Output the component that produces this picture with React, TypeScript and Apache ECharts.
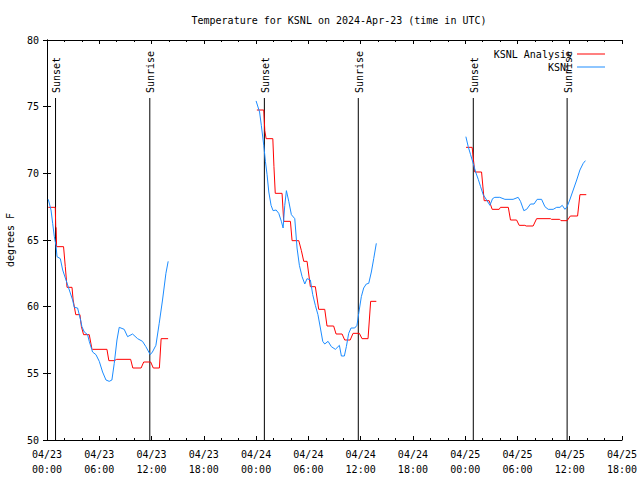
import React, { useEffect, useRef } from "react";
import * as echarts from "echarts";

// hours since 2024-04-23 00:00 UTC
const analysisSeg1: [number, number][] = [
  [0.15, 67.45], [0.95, 67.45], [1.0, 66.0], [1.05, 65.9], [1.1, 64.5], [1.9, 64.5], [2.1, 63.0], [2.3, 61.45],
  [2.87, 61.45], [3.0, 60.5], [3.3, 59.4], [3.78, 59.4], [3.95, 58.5], [4.2, 57.9], [4.85, 57.9], [5.15, 56.85],
  [5.23, 56.8], [6.88, 56.8], [7.1, 55.95], [7.72, 55.95], [8.0, 56.05], [9.6, 56.05], [9.85, 55.4], [10.8, 55.4],
  [11.1, 55.85], [11.9, 55.85], [12.2, 55.4], [12.9, 55.4], [13.1, 57.6], [13.9, 57.6],
];
const analysisSeg2: [number, number][] = [
  [24.09, 74.75], [24.88, 74.75], [25.0, 73.2], [25.15, 72.6], [25.92, 72.6], [26.05, 70.5], [26.2, 68.5],
  [26.98, 68.5], [27.17, 66.4], [27.94, 66.4], [28.13, 64.95], [28.9, 64.95], [29.2, 64.2], [29.47, 63.4],
  [29.85, 63.4], [30.23, 61.5], [30.8, 61.5], [31.19, 59.8], [31.88, 59.8], [32.14, 58.55], [32.9, 58.55],
  [33.18, 57.95], [33.87, 57.95], [34.17, 57.5], [34.8, 57.5], [35.13, 58.0], [35.85, 58.0], [36.16, 57.6],
  [36.85, 57.6], [37.15, 60.4], [37.8, 60.4],
];
const analysisSeg3: [number, number][] = [
  [48.1, 71.95], [48.8, 71.95], [49.1, 70.1], [49.88, 70.1], [50.18, 67.95], [50.75, 67.95], [51.1, 67.3],
  [51.9, 67.3], [52.05, 67.45], [52.95, 67.45], [53.2, 66.5], [53.9, 66.5], [54.2, 66.1], [54.85, 66.1],
  [55.0, 66.05], [55.8, 66.05], [56.2, 66.6], [57.8, 66.6], [57.9, 66.55], [58.85, 66.55], [59.0, 66.45],
  [59.7, 66.45], [60.07, 66.8], [60.9, 66.8], [61.17, 68.4], [61.9, 68.4],
];

const obsSeg1: [number, number][] = [
  [0.15, 68.05], [0.46, 67.25], [0.65, 66.25], [0.84, 65.25], [1.03, 64.6], [1.15, 63.75], [1.53, 63.6],
  [1.8, 62.75], [2.18, 62.0], [2.56, 61.25], [2.94, 60.5], [3.13, 59.95], [3.51, 59.9], [3.82, 59.1],
  [4.01, 58.5], [4.28, 58.1], [4.66, 57.9], [4.85, 57.4], [5.23, 56.6], [5.62, 56.4], [6.0, 55.9],
  [6.38, 55.1], [6.77, 54.5], [7.14, 54.4], [7.45, 54.5], [7.72, 55.75], [8.03, 57.5], [8.29, 58.45],
  [8.86, 58.3], [9.25, 57.75], [9.82, 57.95], [10.4, 57.6], [10.96, 57.4], [11.35, 57.0], [11.85, 56.4],
  [12.1, 56.6], [12.5, 57.1], [12.88, 58.75], [13.26, 60.5], [13.65, 62.5], [13.91, 63.4],
];
const obsSeg2: [number, number][] = [
  [24.0, 75.43], [24.4, 74.6], [24.6, 73.6], [24.88, 72.1], [25.07, 70.9], [25.26, 69.9], [25.46, 68.6],
  [25.72, 67.6], [25.95, 67.2], [26.3, 67.25], [26.6, 67.0], [26.9, 66.4], [27.1, 65.9], [27.29, 67.6],
  [27.48, 68.7], [27.75, 67.9], [28.05, 66.9], [28.44, 66.6], [28.7, 64.4], [28.97, 63.1], [29.28, 62.25],
  [29.59, 61.7], [29.85, 62.1], [30.23, 62.0], [30.5, 60.9], [30.8, 60.1], [31.1, 59.4], [31.38, 58.4],
  [31.65, 57.4], [31.88, 57.2], [32.26, 57.4], [32.64, 57.0], [33.1, 56.8], [33.56, 57.1], [33.79, 56.3],
  [34.13, 56.3], [34.36, 57.0], [34.63, 58.0], [34.9, 58.4], [35.32, 58.4], [35.58, 58.6], [35.78, 59.5],
  [36.08, 60.75], [36.35, 61.4], [36.65, 61.7], [36.93, 61.75], [37.23, 62.6], [37.5, 63.6], [37.8, 64.75],
];
const obsSeg3: [number, number][] = [
  [48.08, 72.75], [48.35, 72.0], [48.62, 71.4], [48.92, 70.75], [49.2, 70.1], [49.5, 69.55], [49.77, 69.0],
  [50.07, 68.4], [50.46, 68.0], [50.84, 67.6], [51.14, 68.1], [51.4, 68.2], [51.97, 68.2], [52.56, 68.05],
  [53.5, 68.05], [54.08, 68.2], [54.35, 67.9], [54.73, 67.2], [55.05, 67.3], [55.5, 67.7], [55.9, 67.7],
  [56.26, 68.05], [56.77, 68.05], [57.15, 67.5], [57.53, 67.3], [58.1, 67.3], [58.5, 67.45], [58.88, 67.45],
  [59.14, 67.6], [59.45, 67.3], [59.7, 67.5], [60.0, 68.0], [60.4, 68.75], [60.8, 69.5], [61.17, 70.25],
  [61.55, 70.75], [61.8, 70.95],
];

const sunTimes = [0.98, 11.8, 24.95, 35.73, 48.93, 59.7];
const sunLabels = ["Sunset", "Sunrise", "Sunset", "Sunrise", "Sunset", "Sunrise"];
const SUN_LINE_TOP = 75.65;

const X_MIN = 0;
const X_MAX = 66;
const Y_MIN = 50;
const Y_MAX = 80;

const FONT = "DejaVu Sans Mono";

function joinSegments(segs: [number, number][][]): any[] {
  const out: any[] = [];
  segs.forEach((s, i) => {
    if (i > 0) out.push([s[0][0] - 0.01, "-"]);
    s.forEach((p) => out.push(p));
  });
  return out;
}

function xLabel(v: number): string {
  const day = 23 + Math.floor(v / 24);
  const hh = v % 24;
  return `04/${day}\n${String(hh).padStart(2, "0")}:00`;
}

export default function App() {
  const ref = useRef<HTMLDivElement>(null);
  useEffect(() => {
    if (!ref.current) return;
    const chart = echarts.init(ref.current, null, { renderer: "svg" });
    const axisLine = { show: true, lineStyle: { color: "#000", width: 1 } };
    chart.setOption({
      animation: false,
      backgroundColor: "#fff",
      textStyle: { fontFamily: FONT, color: "#000" },
      title: {
        text: "Temperature for KSNL on 2024-Apr-23 (time in UTC)",
        left: 334,
        top: 10,
        textAlign: "center",
        textStyle: { fontFamily: FONT, fontSize: 10, fontWeight: "normal", color: "#000" },
      },
      legend: [
        {
          data: ["KSNL Analysis"],
          right: 30,
          top: 43,
          align: "right",
          icon: "rect",
          itemWidth: 28,
          itemHeight: 1,
          textStyle: { fontFamily: FONT, fontSize: 10, color: "#000", lineHeight: 12 },
        },
        {
          data: ["KSNL"],
          right: 30,
          top: 56,
          align: "right",
          icon: "rect",
          itemWidth: 28,
          itemHeight: 1,
          textStyle: { fontFamily: FONT, fontSize: 10, color: "#000", lineHeight: 12 },
        },
      ],
      grid: { left: 47, right: 18, top: 40, bottom: 40, containLabel: false, outerBoundsMode: "none" },
      xAxis: [
        {
          type: "value",
          min: X_MIN,
          max: X_MAX,
          interval: 6,
          axisLine,
          axisTick: { show: true, inside: true, length: 4, lineStyle: { color: "#000" } },
          minorTick: { show: true, splitNumber: 3, length: 2, lineStyle: { color: "#000" } },
          splitLine: { show: false },
          axisLabel: {
            formatter: xLabel,
            fontFamily: FONT,
            fontSize: 10,
            color: "#000",
            margin: 7,
            lineHeight: 15,
          },
        },
        {
          type: "value",
          position: "top",
          min: X_MIN,
          max: X_MAX,
          interval: 6,
          axisLine,
          axisTick: { show: true, inside: true, length: 4, lineStyle: { color: "#000" } },
          minorTick: { show: true, splitNumber: 3, length: 2, lineStyle: { color: "#000" } },
          splitLine: { show: false },
          axisLabel: { show: false },
        },
      ],
      yAxis: [
        {
          type: "value",
          min: Y_MIN,
          max: Y_MAX,
          interval: 5,
          name: "degrees F",
          nameLocation: "middle",
          nameGap: 32,
          nameRotate: 90,
          nameTextStyle: { fontFamily: FONT, fontSize: 10, color: "#000" },
          axisLine,
          axisTick: { show: true, inside: true, length: 4, lineStyle: { color: "#000" } },
          splitLine: { show: false },
          axisLabel: { fontFamily: FONT, fontSize: 10, color: "#000", margin: 8 },
        },
        {
          type: "value",
          position: "right",
          min: Y_MIN,
          max: Y_MAX,
          interval: 5,
          axisLine,
          axisTick: { show: true, inside: true, length: 4, lineStyle: { color: "#000" } },
          splitLine: { show: false },
          axisLabel: { show: false },
        },
      ],
      series: [
        {
          name: "sun",
          type: "custom",
          xAxisIndex: 0,
          yAxisIndex: 0,
          silent: true,
          data: sunTimes.map((h) => [h, Y_MIN]),
          encode: { x: 0, y: 1 },
          renderItem: (params: any, api: any) => {
            const h = api.value(0);
            const top = api.coord([h, SUN_LINE_TOP]);
            const bot = api.coord([h, Y_MIN]);
            return {
              type: "group",
              children: [
                {
                  type: "line",
                  shape: { x1: top[0], y1: top[1], x2: bot[0], y2: bot[1] },
                  style: { stroke: "#000", lineWidth: 1 },
                },
                {
                  type: "text",
                  x: top[0] + 1,
                  y: top[1] - 5,
                  rotation: Math.PI / 2,
                  style: {
                    text: sunLabels[params.dataIndex],
                    fontFamily: FONT,
                    fontSize: 10,
                    fill: "#000",
                    align: "left",
                    verticalAlign: "middle",
                  },
                },
              ],
            };
          },
        },
        {
          name: "KSNL Analysis",
          type: "line",
          data: joinSegments([analysisSeg1, analysisSeg2, analysisSeg3]),
          showSymbol: false,
          connectNulls: false,
          lineStyle: { color: "#ff0000", width: 1 },
          itemStyle: { color: "#ff0000" },
        },
        {
          name: "KSNL",
          type: "line",
          data: joinSegments([obsSeg1, obsSeg2, obsSeg3]),
          showSymbol: false,
          connectNulls: false,
          lineStyle: { color: "#1c8cff", width: 1 },
          itemStyle: { color: "#1c8cff" },
        },
      ],
    });
    return () => chart.dispose();
  }, []);
  return (
    <div
      ref={ref}
      style={{ position: "fixed", left: 0, top: 0, width: 640, height: 480, background: "#fff" }}
    />
  );
}
